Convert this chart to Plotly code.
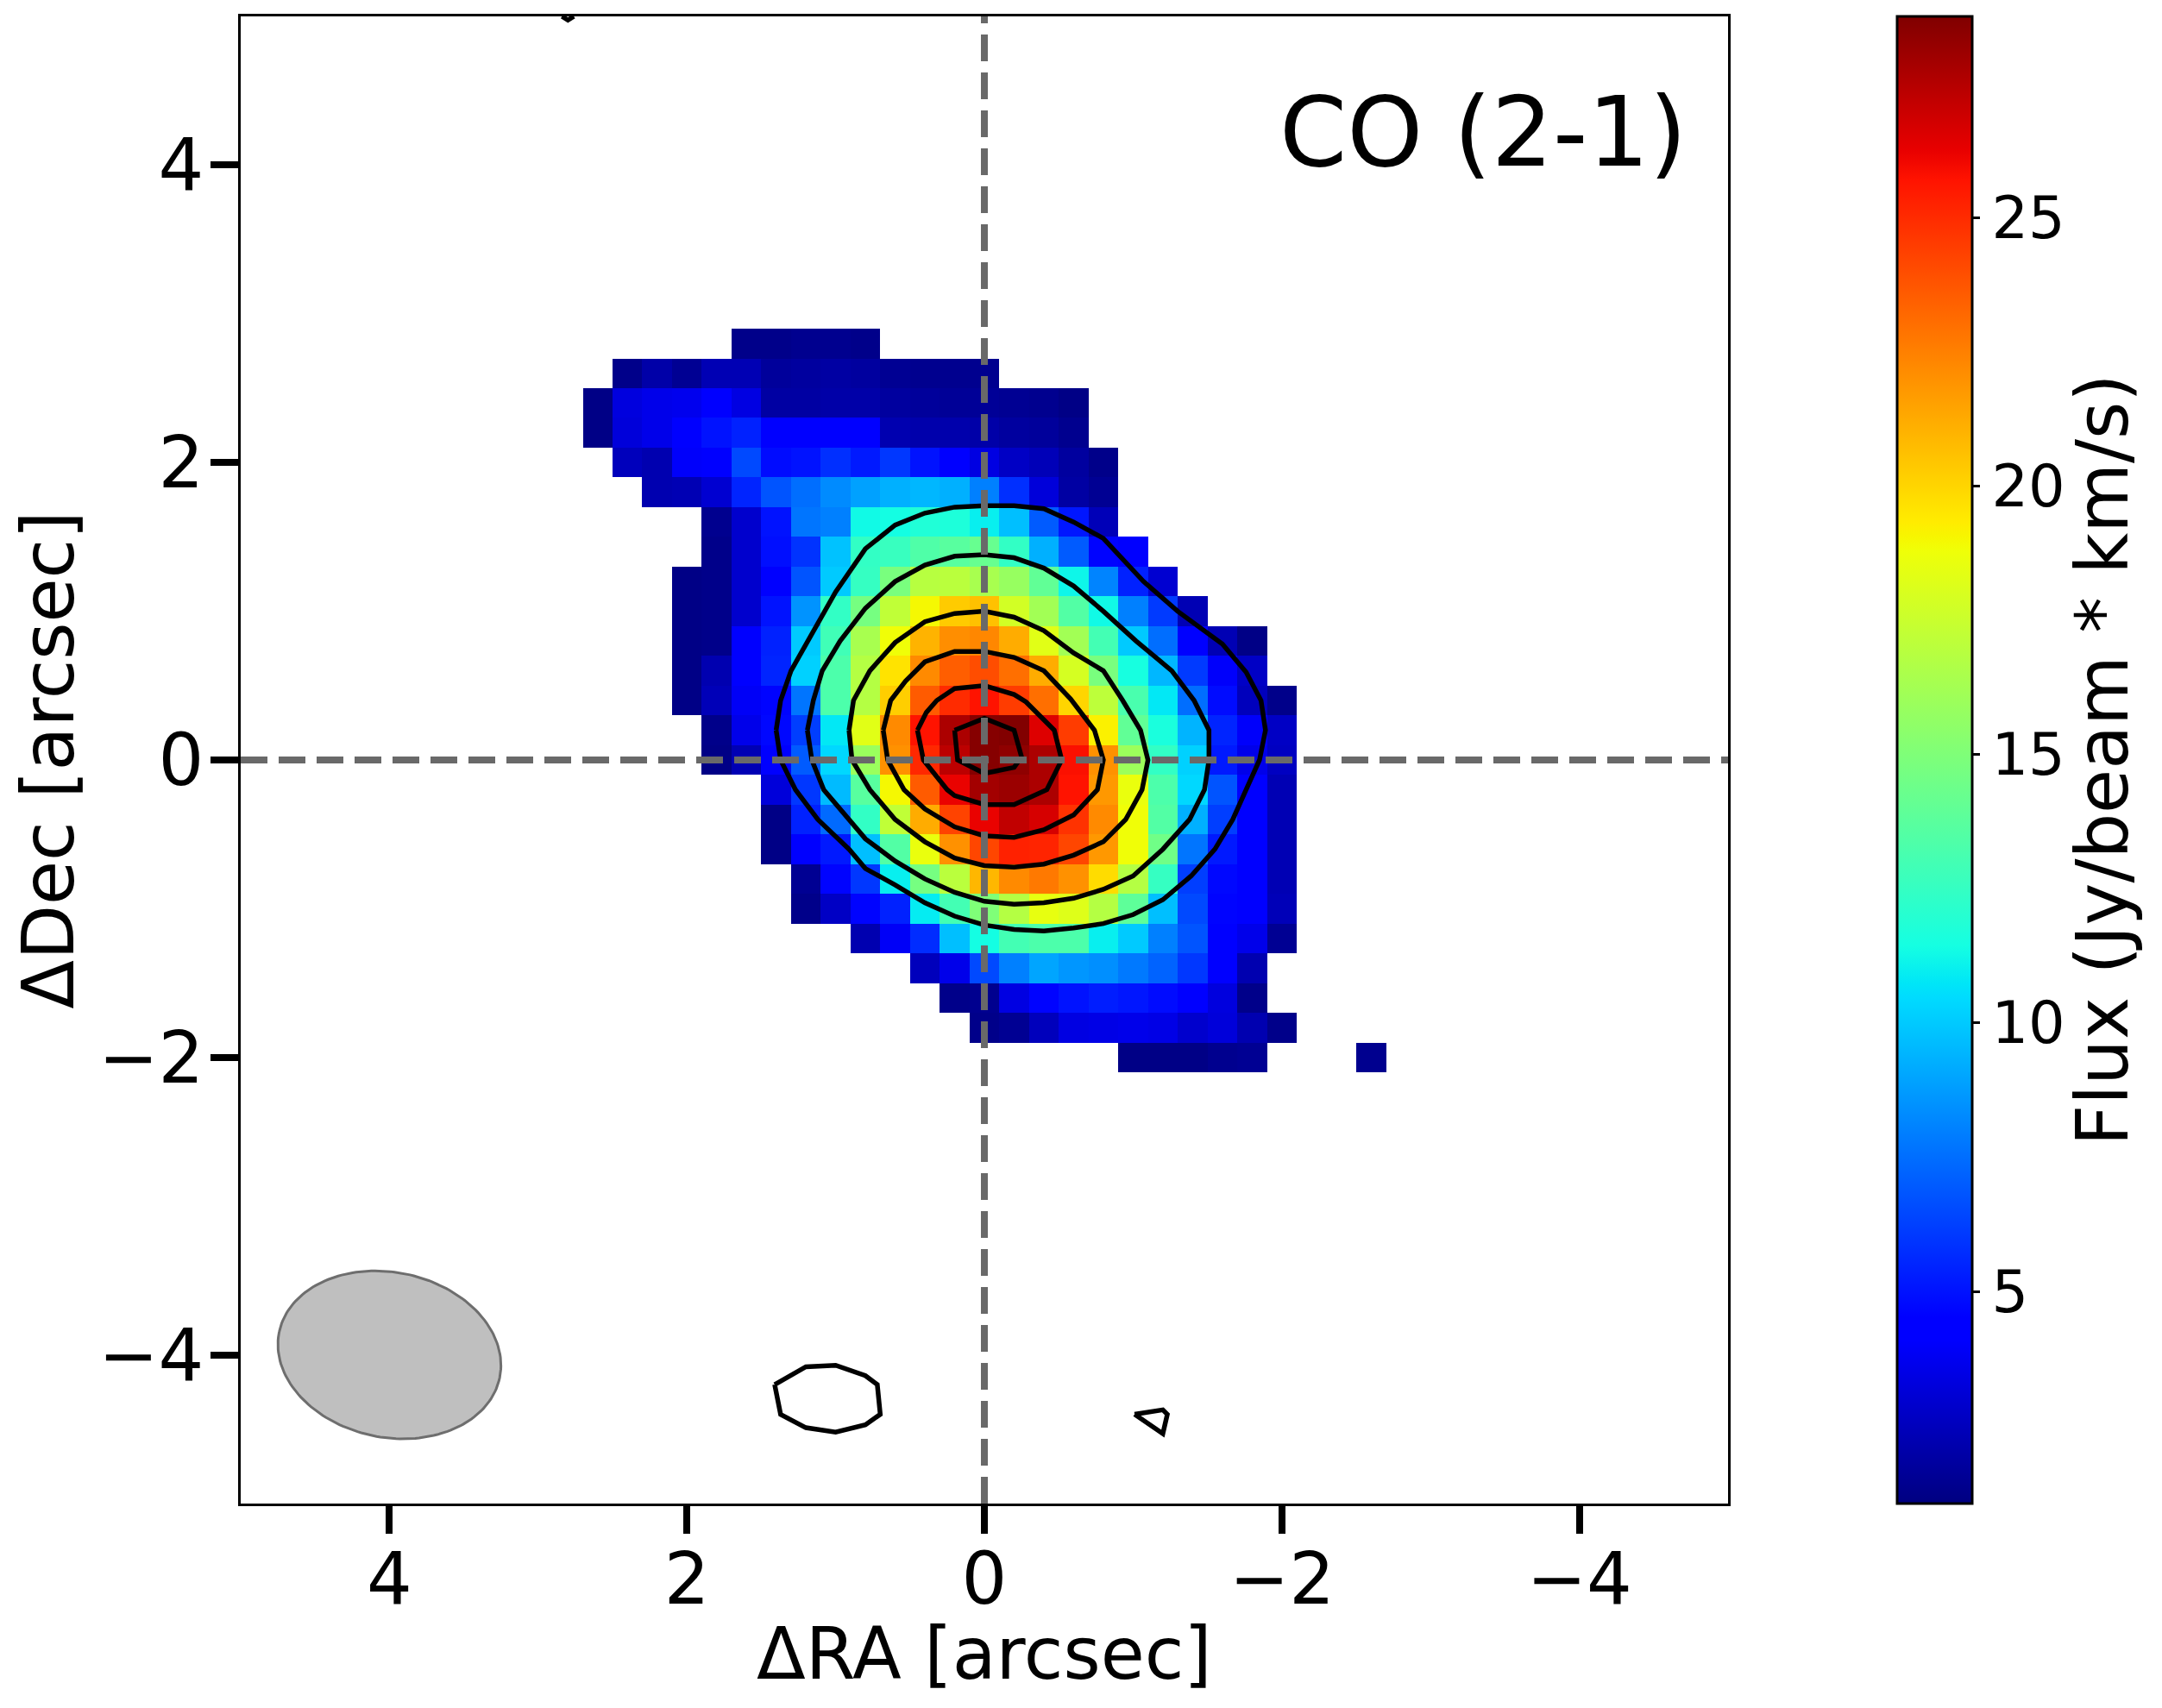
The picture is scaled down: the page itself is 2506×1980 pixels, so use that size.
import numpy as np
import plotly.graph_objects as go

# moment 0 map, one list per row of pixels (left to right, i.e. RA going down)
# pixel size 0.2 arcsec, name gives the row's Dec in pixels
row_p14 = [1.3, 1.3, 1.4, 1.4, 1.3]
row_p13 = [1.3, 2.0, 1.5, 2.3, 2.3, 1.7, 1.8, 1.9, 1.8, 1.5, 1.4, 1.4, 1.4]
row_p12 = [1.2, 3.3, 3.6, 3.7, 4.1, 3.4, 1.9, 1.9, 2.0, 2.0, 1.8, 1.7, 1.6, 1.6, 1.5, 1.4, 1.2]
row_p11 = [1.2, 3.2, 3.6, 4.2, 5.0, 5.4, 4.3, 4.1, 4.1, 4.1, 2.2, 2.1, 2.1, 2.0, 1.8, 1.7, 1.4]
row_p10 = [2.5, 2.2, 4.0, 4.1, 6.5, 4.8, 5.0, 5.8, 5.2, 6.0, 5.0, 4.2, 3.4, 2.7, 2.4, 1.8, 1.3]
row_p9 = [2.2, 2.3, 3.0, 5.5, 6.8, 7.5, 8.3, 8.9, 9.3, 9.5, 9.3, 8.0, 5.8, 3.2, 1.9, 1.5]
row_p8 = [1.4, 2.9, 5.0, 7.7, 8.0, 11.3, 11.4, 11.8, 11.7, 11.0, 9.7, 7.0, 5.1, 2.4]
row_p7 = [1.3, 2.9, 4.9, 5.9, 9.8, 12.4, 12.6, 13.4, 13.7, 14.2, 12.4, 9.3, 7.0, 4.6, 4.1]
row_p6 = [1.2, 1.3, 2.9, 4.1, 6.8, 10.0, 12.5, 14.8, 16.9, 17.0, 16.4, 15.8, 14.0, 11.2, 8.1, 5.4, 3.0]
row_p5 = [1.2, 1.3, 2.9, 5.0, 8.5, 12.4, 14.7, 17.2, 19.0, 20.3, 20.6, 17.8, 16.2, 13.5, 11.3, 8.0, 6.1, 2.3]
row_p4 = [1.2, 1.3, 4.1, 5.4, 10.0, 12.9, 16.4, 18.8, 21.0, 22.1, 22.3, 21.2, 18.3, 16.2, 13.0, 10.0, 7.5, 4.1, 2.3, 1.2]
row_p3 = [1.2, 2.2, 4.1, 5.5, 10.2, 13.3, 16.8, 19.6, 22.2, 23.5, 24.0, 23.0, 21.2, 17.9, 14.8, 11.5, 9.5, 6.1, 4.0, 2.7]
row_p2 = [1.2, 2.4, 3.9, 4.6, 7.7, 13.3, 16.8, 20.2, 23.6, 25.0, 25.7, 24.5, 23.0, 20.0, 17.1, 13.2, 10.8, 7.5, 4.8, 2.5, 1.3]
row_p1 = [1.3, 3.6, 4.7, 6.2, 10.8, 18.3, 22.2, 25.7, 27.7, 28.6, 28.7, 26.5, 24.5, 19.2, 14.0, 11.6, 9.4, 5.5, 4.0, 2.7]
row_0 = [1.2, 2.3, 4.5, 7.0, 10.4, 15.9, 22.0, 25.1, 27.3, 28.6, 28.4, 27.7, 25.8, 22.0, 16.0, 12.4, 10.2, 5.2, 3.6, 2.6]
row_m1 = [3.2, 6.0, 9.6, 13.7, 19.0, 23.6, 26.2, 27.9, 28.1, 27.7, 25.7, 21.8, 18.6, 13.3, 10.4, 6.8, 4.1, 2.3]
row_m2 = [1.2, 5.4, 7.4, 12.4, 17.2, 21.2, 24.3, 26.2, 27.2, 26.7, 24.8, 22.2, 18.8, 13.5, 9.3, 6.2, 4.1, 2.3]
row_m3 = [1.2, 4.2, 5.2, 9.7, 13.5, 18.6, 22.0, 24.2, 25.3, 25.2, 24.2, 21.8, 18.8, 14.5, 7.7, 5.2, 4.1, 2.3]
row_m4 = [1.5, 4.6, 6.0, 11.0, 14.7, 17.0, 20.9, 22.2, 22.7, 22.0, 19.8, 16.8, 12.5, 6.2, 4.7, 4.1, 2.3]
row_m5 = [1.3, 2.7, 4.6, 5.4, 10.9, 13.0, 15.0, 16.8, 18.5, 18.2, 16.8, 13.9, 9.7, 6.5, 4.6, 4.1, 2.4]
row_m6 = [2.2, 3.9, 5.7, 9.7, 11.4, 13.0, 13.3, 13.3, 11.0, 10.0, 8.0, 6.8, 4.1, 3.6, 1.5]
row_m7 = [2.5, 3.6, 6.5, 8.0, 9.0, 8.6, 8.4, 7.8, 7.2, 6.0, 4.1, 2.2]
row_m8 = [1.3, 1.4, 3.4, 4.6, 5.0, 5.3, 5.1, 4.8, 4.5, 3.3, 1.3]
row_m9 = [1.3, 1.5, 2.5, 3.4, 3.5, 3.6, 3.5, 2.9, 3.2, 2.2, 1.3]
row_m10 = [1.2, 1.2, 1.2, 1.4, 1.5]
lone_pixel = [1.4]

# (dec of row, ra of its first pixel, values)
flux_rows = [
    (2.8, 1.6, row_p14), (2.6, 2.4, row_p13), (2.4, 2.6, row_p12), (2.2, 2.6, row_p11),
    (2.0, 2.4, row_p10), (1.8, 2.2, row_p9), (1.6, 1.8, row_p8), (1.4, 1.8, row_p7),
    (1.2, 2.0, row_p6), (1.0, 2.0, row_p5), (0.8, 2.0, row_p4), (0.6, 2.0, row_p3),
    (0.4, 2.0, row_p2), (0.2, 1.8, row_p1), (0.0, 1.8, row_0), (-0.2, 1.4, row_m1),
    (-0.4, 1.4, row_m2), (-0.6, 1.4, row_m3), (-0.8, 1.2, row_m4), (-1.0, 1.2, row_m5),
    (-1.2, 0.8, row_m6), (-1.4, 0.4, row_m7), (-1.6, 0.2, row_m8), (-1.8, 0.0, row_m9),
    (-2.0, -1.0, row_m10), (-2.0, -2.6, lone_pixel),
]

# contours, innermost first (arcsec)
cont1_ra = [0.2, 0.0, -0.2, -0.25, -0.2, 0.0, 0.18, 0.2]
cont1_dec = [0.2, 0.28, 0.2, 0.02, -0.05, -0.09, 0.0, 0.2]
cont2_ra = [0.45, 0.39, 0.32, 0.2, 0.0, -0.2, -0.28, -0.4, -0.47, -0.52, -0.42, -0.2, 0.0, 0.2, 0.25, 0.41, 0.45]
cont2_dec = [0.2, 0.32, 0.4, 0.48, 0.5, 0.44, 0.39, 0.27, 0.2, 0.0, -0.2, -0.3, -0.3, -0.24, -0.2, 0.0, 0.2]
cont3_ra = [0.68, 0.63, 0.53, 0.4, 0.2, 0.0, -0.2, -0.4, -0.58, -0.74, -0.8, -0.76, -0.6, -0.4, -0.2, 0.0, 0.2, 0.4, 0.54, 0.65, 0.68]
cont3_dec = [0.2, 0.4, 0.53, 0.66, 0.73, 0.73, 0.69, 0.6, 0.41, 0.2, 0.0, -0.2, -0.37, -0.47, -0.52, -0.51, -0.45, -0.33, -0.2, 0.0, 0.2]
cont4_ra = [0.91, 0.88, 0.77, 0.6, 0.4, 0.2, 0.0, -0.2, -0.4, -0.6, -0.8, -0.93, -1.05, -1.1, -1.06, -0.95, -0.8, -0.6, -0.4, -0.2, 0.0, 0.2, 0.4, 0.6, 0.77, 0.89, 0.91]
cont4_dec = [0.2, 0.4, 0.6, 0.79, 0.93, 0.985, 1.0, 0.96, 0.87, 0.72, 0.6, 0.4, 0.2, 0.0, -0.2, -0.4, -0.55, -0.64, -0.7, -0.72, -0.71, -0.66, -0.55, -0.4, -0.2, 0.0, 0.2]
cont5_ra = [1.19, 1.15, 1.09, 0.97, 0.8, 0.6, 0.4, 0.2, 0.0, -0.2, -0.4, -0.6, -0.8, -1.02, -1.26, -1.41, -1.51, -1.51, -1.48, -1.38, -1.2, -1.0, -0.8, -0.6, -0.4, -0.2, 0.0, 0.2, 0.4, 0.6, 0.8, 0.91, 1.08, 1.16, 1.19]
cont5_dec = [0.2, 0.4, 0.6, 0.8, 1.02, 1.2, 1.31, 1.37, 1.38, 1.36, 1.29, 1.17, 1.0, 0.8, 0.6, 0.4, 0.2, 0.0, -0.2, -0.4, -0.6, -0.78, -0.87, -0.93, -0.96, -0.97, -0.95, -0.89, -0.8, -0.68, -0.53, -0.4, -0.2, 0.0, 0.2]
cont6_ra = [1.4, 1.37, 1.3, 1.19, 1.08, 1.0, 0.8, 0.6, 0.4, 0.2, 0.0, -0.2, -0.4, -0.6, -0.8, -1.07, -1.3, -1.6, -1.76, -1.86, -1.89, -1.85, -1.76, -1.67, -1.55, -1.39, -1.2, -1.0, -0.8, -0.6, -0.4, -0.2, 0.0, 0.2, 0.4, 0.6, 0.8, 0.91, 1.12, 1.27, 1.37, 1.4]
cont6_dec = [0.2, 0.4, 0.6, 0.8, 1.0, 1.13, 1.42, 1.58, 1.66, 1.7, 1.71, 1.71, 1.69, 1.6, 1.49, 1.2, 1.0, 0.78, 0.59, 0.4, 0.2, 0.0, -0.2, -0.4, -0.6, -0.78, -0.94, -1.04, -1.1, -1.13, -1.15, -1.14, -1.11, -1.05, -0.96, -0.84, -0.73, -0.6, -0.4, -0.2, 0.0, 0.2]
ring_ra = [1.41, 1.2, 1.0, 0.8, 0.72, 0.7, 0.8, 1.0, 1.2, 1.37, 1.41]
ring_dec = [-4.2, -4.08, -4.07, -4.14, -4.2, -4.4, -4.47, -4.52, -4.49, -4.4, -4.2]
wedge_ra = [-1.01, -1.2, -1.23, -1.2, -1.01]
wedge_dec = [-4.4, -4.37, -4.4, -4.53, -4.4]
top_ra = [2.84, 2.8, 2.76]
top_dec = [5.0, 4.975, 5.0]

contours = [
    (cont1_ra, cont1_dec), (cont2_ra, cont2_dec), (cont3_ra, cont3_dec),
    (cont4_ra, cont4_dec), (cont5_ra, cont5_dec), (cont6_ra, cont6_dec),
    (ring_ra, ring_dec), (wedge_ra, wedge_dec), (top_ra, top_dec),
]

# synthesized beam, drawn in the lower left corner
beam_ra, beam_dec = 4.0, -4.0
beam_major, beam_minor = 1.514, 1.11
beam_angle = 11.7

tick_vals = [4, 2, 0, -2, -4]
tick_text = ["4", "2", "0", "\u22122", "\u22124"]
cbar_ticks = [5, 10, 15, 20, 25]
flux_min, flux_max = 1.05, 28.75

# matplotlib's jet
jet = [
    [0, "rgb(0,0,128)"], [0.11, "rgb(0,0,255)"], [0.125, "rgb(0,0,255)"],
    [0.34, "rgb(0,219,255)"], [0.35, "rgb(0,230,247)"], [0.375, "rgb(21,255,226)"],
    [0.64, "rgb(239,255,8)"], [0.65, "rgb(247,246,0)"], [0.66, "rgb(255,236,0)"],
    [0.89, "rgb(255,19,0)"], [0.91, "rgb(232,0,0)"], [1, "rgb(128,0,0)"],
]

# put the rows on a regular grid, empty pixels stay NaN
ra_grid = [round(0.2 * k, 1) for k in range(-14, 15)]
dec_grid = [round(0.2 * m, 1) for m in range(-11, 16)]
flux = np.full((len(dec_grid), len(ra_grid)), np.nan)
for dec, ra_first, values in flux_rows:
    j = dec_grid.index(dec)
    i = ra_grid.index(ra_first)
    for n, v in enumerate(values):
        flux[j, i - n] = v

fig = go.Figure()

fig.add_trace(go.Heatmap(
    x=ra_grid,
    y=dec_grid,
    z=flux,
    zmin=flux_min,
    zmax=flux_max,
    colorscale=jet,
    hoverongaps=False,
    colorbar=dict(
        thicknessmode="pixels", thickness=87,
        lenmode="fraction", len=1,
        x=1.1137, xanchor="left", xpad=0,
        y=0, yanchor="bottom", ypad=0,
        outlinecolor="black", outlinewidth=3,
        ticks="outside", ticklen=8, tickwidth=3, tickcolor="black",
        tickvals=cbar_ticks,
        tickfont=dict(family="DejaVu Sans", size=67, color="black"),
    ),
))

for ra, dec in contours:
    fig.add_trace(go.Scatter(x=ra, y=dec, mode="lines", showlegend=False,
                             line=dict(color="black", width=5.5)))

# the beam
t = np.linspace(0, 2 * np.pi, 181)
th = np.radians(beam_angle)
a, b = beam_major / 2, beam_minor / 2
fig.add_trace(go.Scatter(
    x=beam_ra + a * np.cos(t) * np.cos(th) - b * np.sin(t) * np.sin(th),
    y=beam_dec + a * np.cos(t) * np.sin(th) + b * np.sin(t) * np.cos(th),
    mode="lines", fill="toself", fillcolor="rgb(191,191,191)",
    line=dict(color="rgb(110,110,110)", width=3), showlegend=False,
))

# dashed lines through the phase centre
fig.add_trace(go.Scatter(x=[5, -5], y=[0, 0], mode="lines", showlegend=False,
                         line=dict(color="dimgrey", width=8, dash="31px,13px")))
fig.add_trace(go.Scatter(x=[0, 0], y=[-5, 5], mode="lines", showlegend=False,
                         line=dict(color="dimgrey", width=8, dash="31px,13px")))

fig.add_annotation(x=-3.35, y=4.22, text="CO (2-1)", showarrow=False,
                   font=dict(family="DejaVu Sans", size=112, color="black"))
fig.add_annotation(x=1.252, y=0.5, xref="paper", yref="paper", xanchor="center", yanchor="middle",
                   text="Flux (Jy/beam * km/s)", textangle=-90, showarrow=False,
                   font=dict(family="DejaVu Sans", size=83, color="black"))
# axis title would not come any closer with standoff, so it goes in by hand
fig.add_annotation(x=0.5, y=-0.101, xref="paper", yref="paper", xanchor="center", yanchor="middle",
                   text="\u0394RA [arcsec]", showarrow=False,
                   font=dict(family="DejaVu Sans", size=83, color="black"))

axis_style = dict(
    range=[5, -5], tickmode="array", tickvals=tick_vals, ticktext=tick_text,
    ticks="outside", ticklen=32, tickwidth=8, tickcolor="black",
    tickfont=dict(family="DejaVu Sans", size=83, color="black"),
    showgrid=False, zeroline=False, showline=True, linecolor="black", linewidth=3,
    mirror=True, automargin=False,
)
fig.update_xaxes(**axis_style)
fig.update_xaxes(ticklabelstandoff=-19)
fig.update_yaxes(**axis_style)
fig.update_yaxes(range=[-5, 5], ticklabelstandoff=-9,
                 title=dict(text="\u0394Dec [arcsec]", standoff=22,
                            font=dict(family="DejaVu Sans", size=83, color="black")))

# the page adds an 8px body margin on every side
fig.update_layout(
    width=2490, height=1964,
    margin=dict(l=271, r=495, t=11, b=229, pad=0),
    plot_bgcolor="white", paper_bgcolor="white",
    showlegend=False,
)

fig.write_html("out.html")
